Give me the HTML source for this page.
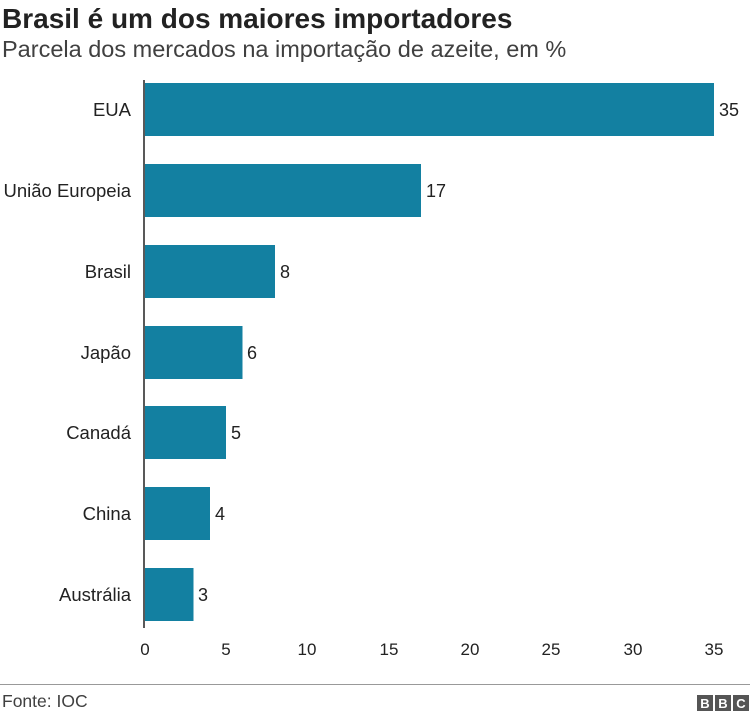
<!DOCTYPE html>
<html><head><meta charset="utf-8"><style>
body{margin:0;background:#fff;}
svg{display:block;font-family:"Liberation Sans",Arial,sans-serif;}
</style></head><body>
<svg width="750" height="717" viewBox="0 0 750 717" xmlns="http://www.w3.org/2000/svg">
<text x="2" y="28" font-size="28" font-weight="bold" fill="#222">Brasil é um dos maiores importadores</text>
<text x="2" y="57" font-size="23.5" fill="#404040">Parcela dos mercados na importação de azeite, em %</text>
<g fill="#1380a1">
<rect x="145" y="83" width="569" height="53"/>
<rect x="145" y="164" width="276" height="53"/>
<rect x="145" y="245" width="130" height="53"/>
<rect x="145" y="326" width="97.5" height="53"/>
<rect x="145" y="406" width="81" height="53"/>
<rect x="145" y="487" width="65" height="53"/>
<rect x="145" y="568" width="48.5" height="53"/>
</g>
<line x1="144" y1="80" x2="144" y2="628" stroke="#222" stroke-width="1.5"/>
<g font-size="18.5" fill="#222" text-anchor="end">
<text x="131" y="116">EUA</text>
<text x="131" y="197">União Europeia</text>
<text x="131" y="278">Brasil</text>
<text x="131" y="359">Japão</text>
<text x="131" y="439">Canadá</text>
<text x="131" y="520">China</text>
<text x="131" y="601">Austrália</text>
</g>
<g font-size="18" fill="#222">
<text x="719" y="116">35</text>
<text x="426" y="197">17</text>
<text x="280" y="278">8</text>
<text x="247" y="359">6</text>
<text x="231" y="439">5</text>
<text x="215" y="520">4</text>
<text x="198" y="601">3</text>
</g>
<g font-size="17" fill="#222" text-anchor="middle">
<text x="145" y="655">0</text>
<text x="226" y="655">5</text>
<text x="307" y="655">10</text>
<text x="389" y="655">15</text>
<text x="470" y="655">20</text>
<text x="551" y="655">25</text>
<text x="633" y="655">30</text>
<text x="714" y="655">35</text>
</g>
<line x1="0" y1="684.5" x2="750" y2="684.5" stroke="#999" stroke-width="1"/>
<text x="2" y="707" font-size="17.5" fill="#404040">Fonte: IOC</text>
<g fill="#555"><rect x="697" y="695" width="16" height="16"/><rect x="715" y="695" width="16" height="16"/><rect x="733" y="695" width="16" height="16"/></g>
<g font-size="13" font-weight="bold" fill="#fff" text-anchor="middle">
<text x="705" y="708">B</text><text x="723" y="708">B</text><text x="741" y="708">C</text>
</g>
</svg>
</body></html>
